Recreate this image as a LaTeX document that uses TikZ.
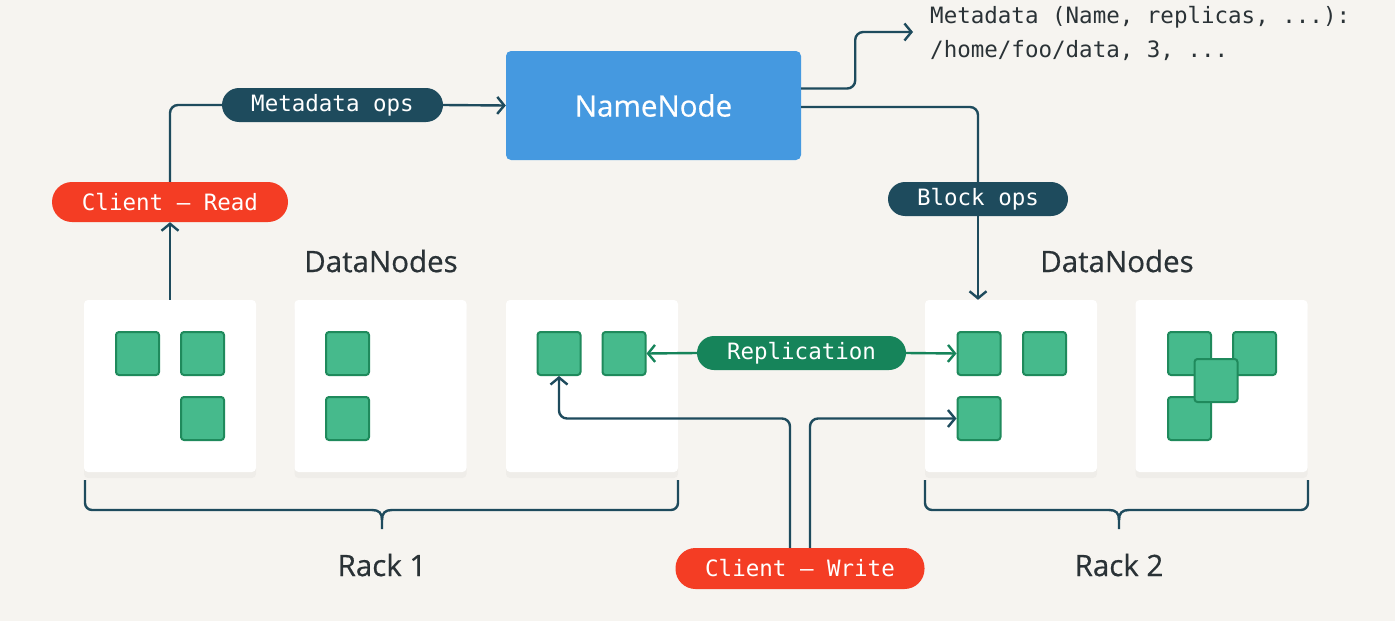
\documentclass[tikz,border=0pt]{standalone}
\usepackage{fontspec}
\setmainfont{Open Sans}[FakeBold=0.6]
\newfontfamily\monofont{DejaVu Sans Mono}
\usetikzlibrary{arrows.meta,shadows}
\definecolor{bgc}{HTML}{F6F4F0}
\definecolor{linec}{HTML}{1E4B5D}
\definecolor{bluec}{HTML}{4599E0}
\definecolor{redc}{HTML}{F43D24}
\definecolor{greenf}{HTML}{46BA8C}
\definecolor{greend}{HTML}{1F8A5C}
\definecolor{greenp}{HTML}{16845A}
\definecolor{txtc}{HTML}{2A3236}
\begin{document}
\begin{tikzpicture}[x=1pt,y=-1pt,
  conn/.style={draw=linec,line width=2.4pt,rounded corners=8pt},
  arr/.style={conn,-{Straight Barb[length=7pt,width=17pt]}},
  garr/.style={draw=greenp,line width=2.4pt,-{Straight Barb[length=7pt,width=17pt]}},
  pill/.style={font=\monofont\fontsize{22.5}{26}\selectfont,text=white,inner sep=0pt,
    minimum height=34pt,rounded corners=17pt},
  darkpill/.style={pill,fill=linec},
  redpill/.style={pill,fill=redc,minimum height=40pt,rounded corners=20pt},
  greenpill/.style={pill,fill=greenp},
  dnbox/.style={fill=white,minimum width=172pt,minimum height=172pt,inner sep=0pt,rounded corners=4pt,
    drop shadow={opacity=0.06,shadow xshift=0pt,shadow yshift=-6pt}},
  blk/.style={fill=greenf,draw=greend,line width=2pt,minimum width=43pt,minimum height=43pt,inner sep=0pt,rounded corners=3pt},
  lbl/.style={font=\fontsize{29.5}{34}\selectfont,text=txtc,inner sep=0pt},
  brace/.style={draw=linec,line width=2.4pt,rounded corners=7pt}
]
\fill[bgc] (0,0) rectangle (1395,621);
\useasboundingbox (0,0) rectangle (1395,621);

% DataNode boxes
\node[dnbox] (d1) at (170,386) {};
\node[dnbox] (d2) at (380.5,386) {};
\node[dnbox] (d3) at (592,386) {};
\node[dnbox] (d4) at (1011,386) {};
\node[dnbox] (d5) at (1221.5,386) {};

% blocks
\node[blk] (b11) at (137.5,353.5) {};
\node[blk] (b12) at (202.5,353.5) {};
\node[blk] (b13) at (202.5,418.5) {};
\node[blk] (b21) at (347.5,353.5) {};
\node[blk] (b22) at (347.5,418.5) {};
\node[blk] (b31) at (559,353.5) {};
\node[blk] (b32) at (624,353.5) {};
\node[blk] (b41) at (979,353.5) {};
\node[blk] (b42) at (979,418.5) {};
\node[blk] (b43) at (1044.5,353.5) {};
\node[blk] (b51) at (1189.5,353.5) {};
\node[blk] (b52) at (1254.5,353.5) {};
\node[blk] (b53) at (1189.5,418.5) {};
\node[blk] (b54) at (1216,380.5) {};

% NameNode
\node[fill=bluec,minimum width=295pt,minimum height=109pt,rounded corners=5pt,
  font=\fontsize{29.5}{34}\selectfont,text=white] (nn) at (653.5,105.5) {NameNode};

% pills
\node[darkpill,minimum width=221pt] (mo) at (332.5,105) {Metadata ops};
\node[redpill,minimum width=236pt] (cr) at (170,202) {Client — Read};
\node[darkpill,minimum width=180pt] (bo) at (978,199) {Block ops};
\node[greenpill,minimum width=209pt] (rp) at (801.5,353) {Replication};
\node[redpill,minimum width=249pt,minimum height=41pt] (cw) at (800,568.5) {Client — Write};

% labels
\node[lbl] (dl1) at (381,261) {DataNodes};
\node[lbl] (dl2) at (1117,261) {DataNodes};
\node[lbl] (r1) at (382,565) {Rack 1};
\node[lbl] (r2) at (1119,565) {Rack 2};

\node[font=\monofont\fontsize{22.5}{34}\selectfont,text=txtc,align=left,anchor=west,inner sep=0pt]
  (meta) at (930,33) {Metadata (Name, replicas, ...):\\/home/foo/data, 3, ...};
\coordinate (mt) at (913,32);

% connectors
\draw[arr] (d1.north) -- (cr.south);
\draw[conn] (cr.north) |- (mo.west);
\draw[arr] (mo.east) -- (nn.west);
\draw[arr] ([yshift=17pt]nn.east) -- ++(54,0) |- (mt);
\draw[conn] ([yshift=-1.5pt]nn.east) -| (bo.north);
\draw[arr] (bo.south) -- (bo.south |- d4.north);
\draw[garr] (rp.west) -- (b32.east);
\draw[garr] (rp.east) -- (b41.west);
\draw[arr] ([xshift=-10pt]cw.north) |- (b31.south |- b42.west) -- (b31.south);
\draw[arr] ([xshift=10pt]cw.north) |- (b42.west);

% braces
\draw[brace] (85,480) -- (85,510) -- (372,510);
\draw[brace] (678,480) -- (678,510) -- (392,510);
\draw[draw=linec,line width=2.4pt] (372,510) .. controls (379,510) and (382,513) .. (382,520) -- (382,529);
\draw[draw=linec,line width=2.4pt] (392,510) .. controls (385,510) and (382,513) .. (382,520);
\draw[brace] (925,480) -- (925,510) -- (1109,510);
\draw[brace] (1308,480) -- (1308,510) -- (1129,510);
\draw[draw=linec,line width=2.4pt] (1109,510) .. controls (1116,510) and (1119,513) .. (1119,520) -- (1119,529);
\draw[draw=linec,line width=2.4pt] (1129,510) .. controls (1122,510) and (1119,513) .. (1119,520);
\end{tikzpicture}
\end{document}
